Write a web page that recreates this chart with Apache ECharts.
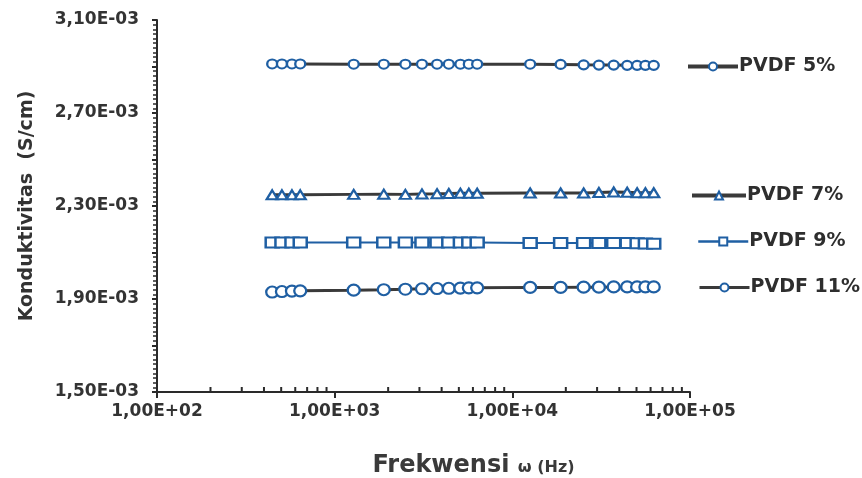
<!DOCTYPE html>
<html>
<head>
<meta charset="utf-8">
<script src="https://cdn.jsdelivr.net/npm/echarts@6/dist/echarts.min.js"></script>
<style>html,body{margin:0;padding:0;background:#fff}#c{width:862px;height:478px}</style>
</head>
<body>
<div id="c"></div>
<script>
// ---- data ----
const frequencies = [445, 505, 575, 640, 1280, 1890, 2500, 3100, 3770, 4390, 5100, 5690, 6340, 12600, 18700, 25200, 30700, 37200, 44300, 50400, 56100, 62500];
const pvdf5 = [0.002911, 0.002911, 0.002911, 0.002911, 0.002910, 0.002910, 0.002910, 0.002910, 0.002910, 0.002910, 0.002910, 0.002910, 0.002910, 0.002910, 0.002909, 0.002907, 0.002906, 0.002906, 0.002905, 0.002905, 0.002905, 0.002905];
const pvdf7 = [0.002348, 0.002348, 0.002348, 0.002348, 0.002350, 0.002351, 0.002350, 0.002352, 0.002353, 0.002354, 0.002355, 0.002355, 0.002355, 0.002356, 0.002356, 0.002356, 0.002358, 0.002360, 0.002359, 0.002357, 0.002357, 0.002357];
const pvdf9 = [0.002143, 0.002143, 0.002143, 0.002143, 0.002143, 0.002143, 0.002143, 0.002143, 0.002143, 0.002143, 0.002143, 0.002143, 0.002143, 0.002141, 0.002141, 0.002141, 0.002141, 0.002141, 0.002141, 0.002140, 0.002139, 0.002138];
const pvdf11 = [0.001930, 0.001932, 0.001934, 0.001935, 0.001938, 0.001940, 0.001942, 0.001944, 0.001945, 0.001946, 0.001947, 0.001948, 0.001948, 0.001950, 0.001950, 0.001951, 0.001951, 0.001952, 0.001952, 0.001952, 0.001952, 0.001952];
const seriesNames = ['PVDF 5%', 'PVDF 7%', 'PVDF 9%', 'PVDF 11%'];
const yMin = 0.0015, yMax = 0.0031, yStep = 0.0002, yLabelStep = 0.0004;
const xMin = 100, xMax = 100000;
const xMinorTickValues = [200, 300, 400, 500, 600, 700, 800, 900, 2000, 3000, 4000, 5000, 6000, 7000, 8000, 9000, 20000, 30000, 40000, 50000, 60000, 70000, 80000, 90000];

// ---- chart ----
const chart = echarts.init(document.getElementById('c'), null, {renderer: 'canvas'});
const BLUE = '#1f5fa3';
const DARK = '#3a3a3a';
const FONT = 'DejaVu Sans';

function pairs(vals) { return frequencies.map((f, i) => [f, vals[i]]); }

function lineSeries(name, vals, symbol, size, lineColor, lineWidth) {
  return {
    name: name, type: 'line', data: pairs(vals),
    symbol: symbol, symbolSize: size, showSymbol: true,
    lineStyle: {color: lineColor, width: lineWidth},
    itemStyle: {color: '#ffffff', borderColor: BLUE, borderWidth: 2.2},
    emphasis: {disabled: true}, animation: false, z: 3
  };
}

function legendAt(name, left, centerY, w, lw) {
  return {
    data: [name], left: left, top: centerY - 11, orient: 'horizontal',
    itemWidth: w, itemHeight: 10, itemGap: 0, padding: 0,
    lineStyle: {width: lw},
    textStyle: {fontFamily: FONT, fontSize: 19, fontWeight: 'bold', color: '#2e2e2e', padding: [0, 0, 0, -4]},
    selectedMode: false
  };
}

const option = {
  backgroundColor: '#ffffff',
  animation: false,
  grid: {left: 157, right: 172, top: 20, bottom: 86, containLabel: false, outerBoundsMode: 'none'},
  legend: [
    legendAt(seriesNames[0], 686, 68, 50, 4),
    legendAt(seriesNames[1], 690, 197, 54, 4),
    legendAt(seriesNames[2], 697, 243, 50, 2.5),
    legendAt(seriesNames[3], 698, 289, 50, 3)
  ],
  xAxis: {
    type: 'log', logBase: 10, min: xMin, max: xMax,
    name: '{a|Frekwensi }{b|ω (Hz)}', nameLocation: 'middle', nameGap: 62,
    nameTextStyle: {padding: [0, 0, 0, 100], rich: {a: {fontFamily: FONT, fontSize: 24, fontWeight: 600, color: '#3a3a3a'}, b: {fontFamily: FONT, fontSize: 16, fontWeight: 'bold', color: '#3a3a3a', padding: [4, 0, 0, 0]}}},
    axisLine: {show: true, lineStyle: {color: '#2a2a2a', width: 2}},
    axisTick: {show: true, length: 6, lineStyle: {color: '#2a2a2a', width: 2}},
    minorTick: {show: false},
    splitLine: {show: false},
    axisLabel: {
      fontFamily: FONT, fontSize: 17, fontWeight: 'bold', color: '#333', margin: 11,
      formatter: v => '1,00E+0' + Math.round(Math.log10(v))
    }
  },
  yAxis: {
    type: 'value', min: yMin, max: yMax, interval: yStep,
    name: 'Konduktivitas  (S/cm)', nameLocation: 'middle', nameGap: 120,
    nameTextStyle: {fontFamily: FONT, fontSize: 19, fontWeight: 'bold', color: '#333'},
    axisLine: {show: true, lineStyle: {color: '#2a2a2a', width: 2}},
    axisTick: {show: true, length: 5, lineStyle: {color: '#2a2a2a', width: 2}},
    minorTick: {show: true, splitNumber: 10, length: 4, lineStyle: {color: '#2a2a2a', width: 1.5}},
    splitLine: {show: false},
    axisLabel: {
      fontFamily: FONT, fontSize: 17, fontWeight: 'bold', color: '#333', margin: 18,
      formatter: function (v) {
        const k = Math.round((v - yMin) / yLabelStep * 1000) / 1000;
        if (Math.abs(k - Math.round(k)) > 1e-6) return '';
        return (v * 1000).toFixed(2).replace('.', ',') + 'E-03';
      }
    }
  },
  series: [
    lineSeries(seriesNames[0], pvdf5, 'circle', [10, 9], DARK, 3),
    lineSeries(seriesNames[1], pvdf7, 'triangle', [11, 9], DARK, 3),
    lineSeries(seriesNames[2], pvdf9, 'rect', [13, 10], BLUE, 2),
    lineSeries(seriesNames[3], pvdf11, 'circle', [12, 11], DARK, 3),
    {
      type: 'custom', silent: true, z: 5,
      data: xMinorTickValues.map(v => [v, yMin]),
      renderItem: function (params, api) {
        const p = api.coord([api.value(0), api.value(1)]);
        return {type: 'line', shape: {x1: p[0], y1: p[1], x2: p[0], y2: p[1] - 5}, style: {stroke: '#2a2a2a', lineWidth: 2}};
      }
    }
  ]
};
chart.setOption(option);
</script>
</body>
</html>
